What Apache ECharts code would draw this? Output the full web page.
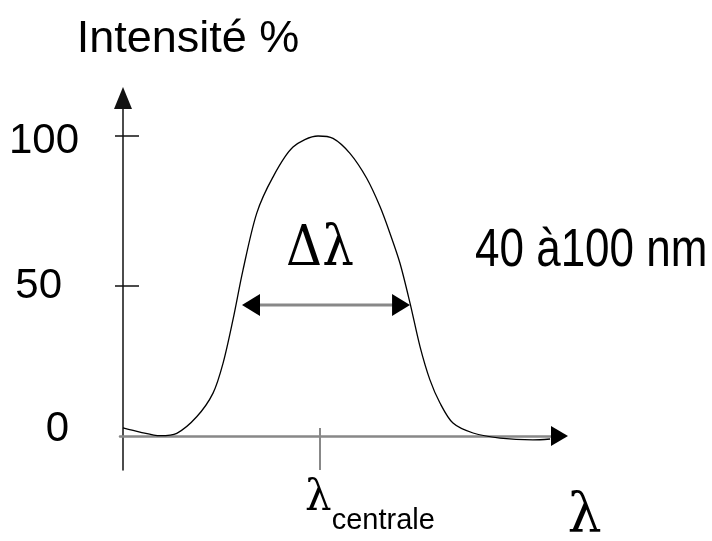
<!DOCTYPE html>
<html><head><meta charset="utf-8">
<script src="https://cdn.jsdelivr.net/npm/echarts@6/dist/echarts.min.js"></script>
<style>html,body{margin:0;padding:0;background:#fff}#c{width:712px;height:541px}</style>
</head><body><div id="c"></div>
<script>
// Spectral line profile (schematic), x in arbitrary wavelength units (centre = 100), y in %
const curveX = [0, 8.6, 18.8, 27.3, 37.4, 45.7, 50.8, 55.8, 60.9, 67.9, 76.1, 86.3, 99, 106.6, 115.2, 123.7, 130.5, 135.5, 140.6, 145.7, 150.8, 155.8, 160.9, 167.5, 177.7, 191.4, 208.1, 216.8];
const curveY = [2.7, 1.3, 0.1, 0.9, 6.4, 14.3, 24.3, 38.7, 55.3, 74.3, 86.3, 96.3, 100, 99.2, 94.2, 85.9, 76.4, 67.6, 57.6, 44.3, 29.7, 18.7, 11, 4.3, 1, -0.7, -1.3, -1.0];
const centreX = [100];
const fwhm = [[60.4, 145.7, 43.7]]; // left end, right end, level
const yTickValues = [50, 100];
const yLabelValues = [0, 50, 100];
const yLabels = {0: '0', 50: '50', 100: '100'};
const xLabel = 'centrale';
const xName = 'λ';
const yName = 'Intensité %';
const deltaText = 'Δλ';
const widthText = '40 à100 nm';

const X_MIN = -1.523, X_MAX = 221.57;
const Y_MIN = -11.333, Y_MAX = 112.667;
const SANS = 'Liberation Sans, Arial, sans-serif';
const SERIF = "'DejaVu Serif', serif";

const chart = echarts.init(document.getElementById('c'), null, {renderer: 'canvas'});
const curve = curveX.map((x, i) => [x, curveY[i]]);

const yRich = {
  l0: {fontFamily: SANS, fontSize: 42, color: '#000', padding: [0, 51, 13, 0]},
  l50: {fontFamily: SANS, fontSize: 42, color: '#000', padding: [0, 58, 0, 0]},
  l100: {fontFamily: SANS, fontSize: 42, color: '#000', padding: [10, 41, 0, 0]}
};

chart.setOption({
  animation: false,
  backgroundColor: '#fff',
  textStyle: {fontFamily: SANS},
  grid: {left: 120, right: 152.5, top: 98, bottom: 71, containLabel: false, outerBoundsMode: 'none'},
  xAxis: [{
    type: 'value', min: X_MIN, max: X_MAX, position: 'bottom',
    axisLine: {show: true, onZero: true, lineStyle: {color: '#888', width: 2.5}},
    axisTick: {show: true, length: 34, customValues: centreX, lineStyle: {color: '#888', width: 2}},
    axisLabel: {
      customValues: centreX, margin: 8.5, padding: [0, 0, 0, 100],
      formatter: () => '{g|λ}{s|' + xLabel + '}',
      rich: {
        g: {fontFamily: SERIF, fontSize: 42, color: '#000', verticalAlign: 'bottom', padding: [0, 0, 14.5, 0]},
        s: {fontFamily: SANS, fontSize: 29, color: '#000', verticalAlign: 'bottom'}
      }
    },
    splitLine: {show: false},
    name: xName, nameLocation: 'end', nameGap: 8,
    nameTextStyle: {fontFamily: SERIF, fontSize: 54, color: '#000', verticalAlign: 'top', align: 'left', padding: [54, 0, 0, 0]}
  }, {
    type: 'value', min: X_MIN, max: X_MAX, position: 'bottom',
    axisLine: {show: true, onZero: true, lineStyle: {color: '#000', width: 0}, symbol: ['none', 'triangle'], symbolSize: [20, 17]},
    axisTick: {show: true, inside: true, length: 8, customValues: centreX, lineStyle: {color: '#888', width: 2}},
    axisLabel: {show: false},
    splitLine: {show: false}
  }],
  yAxis: [{
    type: 'value', min: Y_MIN, max: Y_MAX, position: 'left',
    axisLine: {show: true, onZero: true, lineStyle: {color: '#111', width: 1.5}, symbol: ['none', 'triangle'], symbolSize: [18, 22]},
    axisTick: {show: true, length: 8, customValues: yTickValues, lineStyle: {color: '#111', width: 1.5}},
    axisLabel: {
      customValues: yLabelValues, margin: 0,
      formatter: v => '{l' + v + '|' + yLabels[v] + '}',
      rich: yRich
    },
    splitLine: {show: false},
    name: yName, nameLocation: 'end', nameGap: 36,
    nameTextStyle: {fontFamily: SANS, fontSize: 45, color: '#000', align: 'center', padding: [0, 0, 0, 130]}
  }, {
    type: 'value', min: Y_MIN, max: Y_MAX, position: 'left',
    axisLine: {show: true, onZero: true, lineStyle: {color: '#111', width: 0}},
    axisTick: {show: true, inside: true, length: 16, customValues: yTickValues, lineStyle: {color: '#111', width: 1.5}},
    axisLabel: {show: false},
    splitLine: {show: false}
  }],
  series: [{
    type: 'line', data: curve, xAxisIndex: 0, yAxisIndex: 0,
    smooth: 0.3, showSymbol: false, symbol: 'none', clip: false,
    lineStyle: {color: '#000', width: 1.3}, silent: true, z: 3
  }, {
    type: 'custom', xAxisIndex: 0, yAxisIndex: 0, data: fwhm, clip: false, silent: true, z: 4,
    encode: {x: [0, 1], y: 2},
    renderItem: (params, api) => {
      const p1 = api.coord([api.value(0), api.value(2)]);
      const p2 = api.coord([api.value(1), api.value(2)]);
      const L = 18, H = 11;
      return {type: 'group', children: [
        {type: 'line', shape: {x1: p1[0] + L - 2, y1: p1[1], x2: p2[0] - L + 2, y2: p2[1]}, style: {stroke: '#888', lineWidth: 3}},
        {type: 'polygon', shape: {points: [[p1[0], p1[1]], [p1[0] + L, p1[1] - H], [p1[0] + L, p1[1] + H]]}, style: {fill: '#000'}},
        {type: 'polygon', shape: {points: [[p2[0], p2[1]], [p2[0] - L, p2[1] - H], [p2[0] - L, p2[1] + H]]}, style: {fill: '#000'}}
      ]};
    }
  }],
  graphic: [
    {type: 'text', x: 320, y: 250, scaleY: 1.12, style: {text: deltaText, font: '50px ' + SERIF, fill: '#000', align: 'center', verticalAlign: 'middle'}},
    {type: 'text', x: 475, y: 251, scaleY: 1.2, style: {text: widthText, font: '44px ' + SANS, fill: '#000', align: 'left', verticalAlign: 'middle'}}
  ]
});
</script></body></html>
